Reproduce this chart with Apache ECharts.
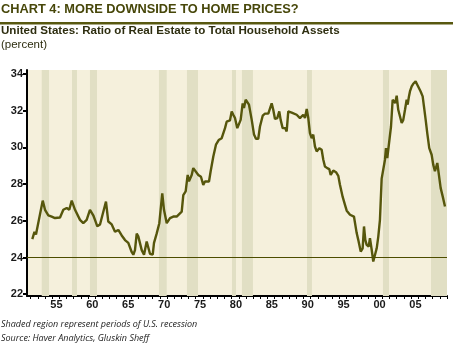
<!DOCTYPE html>
<html>
<head>
<meta charset="utf-8">
<script src="https://cdn.jsdelivr.net/npm/echarts@6/dist/echarts.min.js"></script>
<style>
  html, body { margin: 0; padding: 0; background: #ffffff; }
  #chart { width: 453px; height: 349px; }
</style>
</head>
<body>
<div id="chart"></div>
<script>
// Ratio of real estate to total household assets, US (percent), by fractional year
const years = [
  1952.24, 1952.54, 1952.75, 1953.69, 1954.01, 1954.47, 1954.94, 1955.40, 1956.10, 1956.56,
  1957.03, 1957.39, 1957.73, 1958.19, 1958.88, 1959.34, 1959.81, 1960.27, 1960.51, 1960.73,
  1960.97, 1961.29, 1961.67, 1962.50, 1962.82, 1963.30, 1963.76, 1964.22, 1964.69, 1965.15,
  1965.61, 1966.08, 1966.31, 1966.54, 1966.78, 1967.00, 1967.48, 1967.80, 1968.17, 1968.63,
  1969.01, 1969.19, 1969.56, 1969.93, 1970.12, 1970.34, 1970.58, 1970.96, 1971.42, 1971.88,
  1972.35, 1972.57, 1973.05, 1973.27, 1973.60, 1973.88, 1974.06, 1974.44, 1974.66, 1974.90,
  1975.36, 1975.73, 1976.05, 1976.29, 1976.85, 1977.08, 1977.45, 1977.82, 1978.20, 1978.62,
  1979.08, 1979.31, 1979.77, 1980.01, 1980.23, 1980.47, 1980.79, 1981.03, 1981.26, 1981.54,
  1981.72, 1981.96, 1982.18, 1982.42, 1982.80, 1983.12, 1983.39, 1983.71, 1983.95, 1984.33,
  1984.65, 1985.11, 1985.34, 1985.58, 1985.80, 1986.04, 1986.36, 1986.64, 1986.83, 1987.11,
  1987.29, 1987.47, 1987.67, 1987.89, 1988.37, 1988.59, 1989.06, 1989.52, 1989.98, 1990.22,
  1990.46, 1990.68, 1990.91, 1991.15, 1991.37, 1991.61, 1991.85, 1992.21, 1992.54, 1992.77,
  1993.00, 1993.32, 1993.60, 1993.80, 1994.16, 1994.54, 1994.86, 1995.09, 1995.47, 1995.79,
  1996.03, 1996.49, 1997.04, 1997.42, 1997.64, 1997.98, 1998.25, 1998.44, 1998.62, 1998.81,
  1999.09, 1999.27, 1999.51, 1999.73, 1999.97, 2000.21, 2000.43, 2000.66, 2000.90, 2001.12,
  2001.36, 2001.50, 2001.68, 2001.92, 2002.20, 2002.43, 2002.61, 2002.79, 2002.99, 2003.21,
  2003.45, 2003.69, 2003.91, 2004.15, 2004.38, 2004.52, 2004.70, 2004.84, 2005.08, 2005.30,
  2005.63, 2005.86, 2006.10, 2006.33, 2006.61, 2006.79, 2007.03, 2007.25, 2007.53, 2007.86,
  2008.09, 2008.32, 2008.46, 2008.65, 2008.84, 2009.12, 2009.40, 2009.72
];
const ratio = [
  25.0, 25.4, 25.25, 27.1, 26.6, 26.3, 26.23, 26.15, 26.18, 26.6,
  26.7, 26.6, 27.1, 26.6, 26.05, 25.87, 26.05, 26.6, 26.7, 26.3,
  26.05, 25.7, 25.8, 27.05, 25.96, 25.8, 25.4, 25.5, 25.2, 24.95,
  24.8, 24.3, 24.15, 24.4, 25.3, 25.15, 24.4, 24.15, 24.87, 24.2,
  24.15, 24.8, 25.3, 25.87, 25.96, 27.5, 26.6, 25.87, 26.15, 26.23,
  26.23, 26.3, 26.5, 27.4, 27.6, 28.5, 28.15, 28.5, 28.87, 28.78,
  28.5, 28.4, 27.96, 28.14, 28.14, 28.7, 29.5, 30.15, 30.4, 30.5,
  31.05, 31.4, 31.47, 31.96, 31.78, 31.6, 31.05, 30.96, 31.5, 32.4,
  32.15, 32.6, 32.64, 32.33, 31.5, 30.7, 30.47, 30.47, 31.14, 31.73,
  31.84, 31.84, 31.9, 32.4, 32.05, 31.55, 31.6, 31.96, 31.5, 31.05,
  30.96, 31.05, 30.87, 31.96, 31.9, 32.0, 31.78, 31.6, 31.78, 31.6,
  32.1, 31.6, 30.78, 30.5, 30.7, 30.05, 29.78, 29.96, 29.87, 29.33,
  28.96, 28.87, 28.82, 28.5, 28.74, 28.65, 28.45, 27.96, 27.3, 26.87,
  26.55, 26.33, 26.23, 25.33, 24.96, 24.32, 24.5, 25.69, 24.96, 24.69,
  24.6, 25.05, 24.42, 23.78, 23.73, 24.5, 25.14, 26.05, 28.3, 28.24,
  29.33, 29.96, 29.42, 29.5, 31.14, 32.6, 32.5, 32.42, 32.82, 32.05,
  31.96, 31.33, 31.5, 32.05, 32.6, 32.33, 32.78, 33.05, 33.33, 33.47,
  33.6, 33.42, 33.33, 33.05, 32.78, 32.24, 31.5, 30.78, 29.96, 29.6,
  29.05, 28.7, 28.78, 29.15, 28.6, 27.78, 27.33, 26.78
];

// US recessions (start, end) shaded behind the line
const recessionStart = [1953.55, 1957.77, 1960.27, 1969.88, 1973.78, 1980.05, 1981.44, 1990.50, 2001.08, 2007.77];
const recessionEnd   = [1954.57, 1958.46, 1961.25, 1970.96, 1975.32, 1980.61, 1982.97, 1991.19, 2001.92, 2010.00];

// Axis ticks and labels
const yTicks = [22, 24, 26, 28, 30, 32, 34];
const xTickYears = [];
for (let y = 1952; y <= 2010; y++) xTickYears.push(y);
const xLabelYears = [1955, 1960, 1965, 1970, 1975, 1980, 1985, 1990, 1995, 2000, 2005];
const referenceLevel = 24;

const olive = '#56560c';
const chart = echarts.init(document.getElementById('chart'));

const lineData = years.map((y, i) => [y, ratio[i]]);
const bands = recessionStart.map((s, i) => [{ xAxis: s }, { xAxis: recessionEnd[i] }]);

chart.setOption({
  animation: false,
  grid: {
    left: 27, right: 6, top: 70, bottom: 53,
    show: true, backgroundColor: '#f5f0dc', borderWidth: 0
  },
  xAxis: {
    type: 'value',
    min: 1951.5,
    max: 2010,
    axisLine: { show: true, lineStyle: { color: '#000', width: 2 } },
    axisTick: { show: true, customValues: xTickYears, length: 3, lineStyle: { color: '#000', width: 1 } },
    axisLabel: {
      customValues: xLabelYears.map(y => y + 0.6),
      formatter: v => String(Math.floor(v) % 100).padStart(2, '0'),
      color: '#1a1a1a', fontFamily: 'Liberation Sans', fontWeight: 'bold', fontSize: 11, margin: 3
    },
    splitLine: { show: false }
  },
  yAxis: {
    type: 'value',
    min: 21.9,
    max: 34.22,
    axisLine: { show: true, lineStyle: { color: '#000', width: 2 } },
    axisTick: { show: true, customValues: yTicks, length: 4, lineStyle: { color: '#000', width: 2 } },
    axisLabel: {
      customValues: yTicks,
      color: '#1a1a1a', fontFamily: 'Liberation Sans', fontWeight: 'bold', fontSize: 11, margin: 4
    },
    splitLine: { show: false }
  },
  series: [
    {
      type: 'line', data: [], z: 1, silent: true,
      markArea: { silent: true, itemStyle: { color: '#e1dfc4' }, data: bands }
    },
    {
      type: 'line', data: [], z: 2, silent: true,
      markLine: {
        silent: true, symbol: 'none', label: { show: false },
        lineStyle: { color: '#4d4d00', width: 1, type: 'solid' },
        data: [{ yAxis: referenceLevel }]
      }
    },
    {
      type: 'line', data: lineData, z: 3,
      showSymbol: false, smooth: false,
      lineStyle: { color: olive, width: 2.4 }
    }
  ],
  graphic: [
    {
      type: 'text', left: 1, top: 3,
      style: {
        text: 'CHART 4: MORE DOWNSIDE TO HOME PRICES?',
        fill: '#47470a', font: 'bold 12.8px "Liberation Sans"'
      }
    },
    {
      type: 'rect', shape: { x: 0, y: 22, width: 453, height: 2.5 },
      style: { fill: '#585810' }
    },
    {
      type: 'text', left: 1, top: 25,
      style: {
        text: 'United States: Ratio of Real Estate to Total Household Assets',
        fill: '#2e2e10', font: 'bold 11.6px "Liberation Sans"'
      }
    },
    {
      type: 'text', left: 1, top: 39,
      style: { text: '(percent)', fill: '#2e2e10', font: '11.5px "Liberation Sans"' }
    },
    {
      type: 'text', left: 1, top: 320,
      style: {
        text: 'Shaded region represent periods of U.S. recession',
        fill: '#222', font: 'italic 9px "Open Sans"'
      }
    },
    {
      type: 'text', left: 1, top: 334,
      style: {
        text: 'Source: Haver Analytics, Gluskin Sheff',
        fill: '#222', font: 'italic 9px "Open Sans"'
      }
    }
  ]
});
</script>
</body>
</html>
